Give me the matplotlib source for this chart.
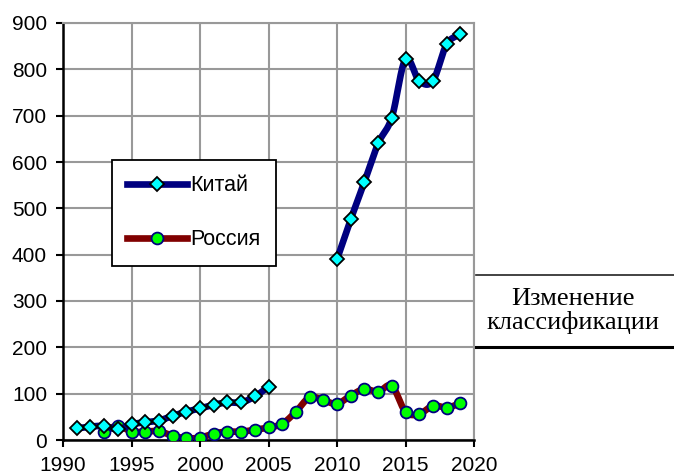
import numpy as np
import matplotlib
matplotlib.use("Agg")
import matplotlib.pyplot as plt
from matplotlib.lines import Line2D

# ---- data ----
china_years_a = [1991, 1992, 1993, 1994, 1995, 1996, 1997, 1998, 1999, 2000,
                 2001, 2002, 2003, 2004, 2005]
china_vals_a = [25, 29, 30, 23, 34, 38, 42, 52, 61, 68, 76, 81, 81, 94, 115]
china_years_b = [2010, 2011, 2012, 2013, 2014, 2015, 2016, 2017, 2018, 2019]
china_vals_b = [390, 476, 557, 640, 696, 822, 775, 775, 854, 876]

russia_years = list(range(1993, 2020))
russia_vals = [18, 31, 18, 18, 19, 9, 4, 5, 14, 18, 18, 22, 27, 35, 61, 92, 86,
               78, 96, 110, 104, 117, 61, 56, 74, 70, 79]

labels = ["Китай", "Россия"]
note_text = "Изменение\nклассификации"
x_ticks = [1990, 1995, 2000, 2005, 2010, 2015, 2020]
y_ticks = list(range(0, 901, 100))


def smooth(x, y, n=20):
    """Catmull-Rom style smoothing for display (like Excel smoothed lines)."""
    x = np.asarray(x, float)
    y = np.asarray(y, float)
    if len(x) < 3:
        return x, y
    px = np.concatenate([[2 * x[0] - x[1]], x, [2 * x[-1] - x[-2]]])
    py = np.concatenate([[2 * y[0] - y[1]], y, [2 * y[-1] - y[-2]]])
    xs, ys = [], []
    t = np.linspace(0, 1, n, endpoint=False)
    for i in range(1, len(px) - 2):
        p0, p1, p2, p3 = (np.array([px[j], py[j]]) for j in (i - 1, i, i + 1, i + 2))
        c1 = p1 + (p2 - p0) / 6.0
        c2 = p2 - (p3 - p1) / 6.0
        b = ((1 - t) ** 3)[:, None] * p1 + (3 * (1 - t) ** 2 * t)[:, None] * c1 \
            + (3 * (1 - t) * t ** 2)[:, None] * c2 + (t ** 3)[:, None] * p2
        xs.append(b[:, 0]); ys.append(b[:, 1])
    xs.append([x[-1]]); ys.append([y[-1]])
    return np.concatenate(xs), np.concatenate(ys)


plt.rcParams['font.family'] = ['Liberation Sans', 'DejaVu Sans']

fig = plt.figure(figsize=(6.74, 4.74), dpi=100)
L, R, T, B = 63, 474, 23, 440
ax = fig.add_axes([L / 674, 1 - B / 474, (R - L) / 674, (B - T) / 474])

navy = "#000080"
maroon = "#800000"

# Russia
sx, sy = smooth(russia_years, russia_vals)
ax.plot(sx, sy, color=maroon, lw=4.8, solid_capstyle='round', zorder=3)
ax.plot(russia_years, russia_vals, ls='none', marker='o', ms=8.5,
        mfc='#00ff00', mec=navy, mew=1.3, zorder=4)

# China
for xs_, ys_ in [(china_years_a, china_vals_a), (china_years_b, china_vals_b)]:
    sx, sy = smooth(xs_, ys_)
    ax.plot(sx, sy, color=navy, lw=4.8, solid_capstyle='round', zorder=5)
    ax.plot(xs_, ys_, ls='none', marker='D', ms=7.5,
            mfc='#00ffff', mec='black', mew=1.3, zorder=6)

ax.set_xlim(1990, 2020)
ax.set_ylim(0, 900)
ax.set_xticks(x_ticks)
ax.set_yticks(y_ticks)
ax.tick_params(axis='both', labelsize=15, direction='out', length=5, width=1.5,
               colors='black')
ax.tick_params(axis='x', pad=6.5)
ax.tick_params(axis='y', pad=6.5)
ax.grid(True, color='#999999', lw=1.5)
ax.set_axisbelow(True)
for s in ['top', 'right']:
    ax.spines[s].set_color('#999999')
    ax.spines[s].set_linewidth(1.5)
for s in ['left', 'bottom']:
    ax.spines[s].set_color('black')
    ax.spines[s].set_linewidth(1.8)

handles = [
    Line2D([], [], color=navy, lw=4.8, marker='D', ms=7.5, mfc='#00ffff', mec='black', mew=1.3),
    Line2D([], [], color=maroon, lw=4.8, marker='o', ms=8.5, mfc='#00ff00', mec=navy, mew=1.3),
]
leg = ax.legend(handles, labels, loc='upper left',
                bbox_to_anchor=((112 - L) / (R - L), (B - 160) / (B - T)),
                fontsize=15.5, frameon=True, fancybox=False, edgecolor='black',
                framealpha=1, handlelength=2.8, labelspacing=1.55,
                borderpad=0.7, handletextpad=0.15, borderaxespad=0)
leg.get_frame().set_linewidth(1.3)

# annotation on the right
fig.add_artist(Line2D([476 / 674, 1.0], [1 - 275 / 474, 1 - 275 / 474],
                      color='#222222', lw=1.2, transform=fig.transFigure))
fig.add_artist(Line2D([476 / 674, 1.0], [1 - 347 / 474, 1 - 347 / 474],
                      color='black', lw=2.2, transform=fig.transFigure))
fig.text(573 / 674, 1 - 311 / 474, note_text, ha='center', va='center',
         fontsize=19, family=['Liberation Serif', 'DejaVu Serif'], linespacing=1.05)

fig.savefig("out.png", dpi=100)
